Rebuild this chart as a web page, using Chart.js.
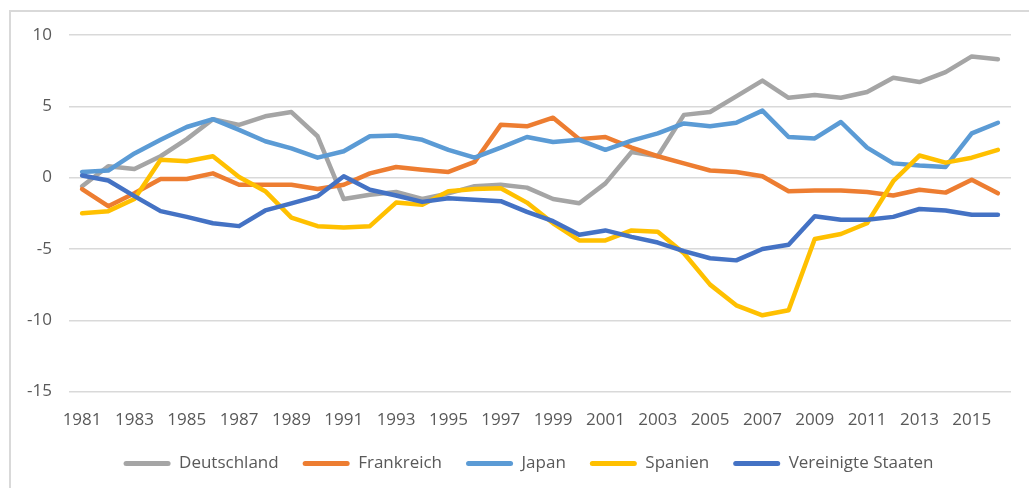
<!DOCTYPE html>
<html>
<head>
<meta charset="utf-8">
<script src="https://cdn.jsdelivr.net/npm/chart.js@4/dist/chart.umd.min.js"></script>
<style>
    html, body { margin: 0; padding: 0; background: #fff; overflow: hidden; }
    #wrap { position: relative; width: 1029px; height: 488px; }
    #frame {
        position: absolute; left: 9px; top: 10px; width: 1040px; height: 500px;
        border-left: 2px solid #d9d9d9; border-top: 2px solid #d9d9d9;
    }
    #chart { position: absolute; left: 0; top: 0; }
</style>
</head>
<body>
<div id="wrap">
    <div id="frame"></div>
    <canvas id="chart" width="1029" height="488"></canvas>
</div>
<script>
/* globals Chart:false */
const YEARS = ["1981", "1982", "1983", "1984", "1985", "1986", "1987", "1988", "1989", "1990",
    "1991", "1992", "1993", "1994", "1995", "1996", "1997", "1998", "1999", "2000",
    "2001", "2002", "2003", "2004", "2005", "2006", "2007", "2008", "2009", "2010",
    "2011", "2012", "2013", "2014", "2015", "2016"];

const DEUTSCHLAND = [-0.6, 0.8, 0.6, 1.5, 2.7, 4.1, 3.7, 4.3, 4.6, 2.9, -1.5, -1.2,
    -1.0, -1.5, -1.1, -0.6, -0.5, -0.7, -1.5, -1.8, -0.4, 1.8, 1.5, 4.4,
    4.6, 5.7, 6.8, 5.6, 5.8, 5.6, 6.0, 7.0, 6.7, 7.4, 8.5, 8.3];
const FRANKREICH = [-0.8, -2.0, -1.1, -0.1, -0.1, 0.3, -0.5, -0.5, -0.5, -0.8, -0.5, 0.3,
    0.75, 0.56, 0.4, 1.1, 3.7, 3.6, 4.2, 2.7, 2.85, 2.1, 1.5, 1.0,
    0.5, 0.4, 0.1, -0.95, -0.9, -0.9, -1.0, -1.25, -0.85, -1.05, -0.15, -1.1];
const JAPAN = [0.4, 0.5, 1.7, 2.65, 3.55, 4.1, 3.35, 2.55, 2.05, 1.4, 1.85, 2.9,
    2.95, 2.65, 1.95, 1.4, 2.1, 2.85, 2.5, 2.65, 1.95, 2.6, 3.1, 3.8,
    3.6, 3.85, 4.7, 2.85, 2.75, 3.9, 2.1, 1.0, 0.85, 0.75, 3.1, 3.85];
const SPANIEN = [-2.5, -2.35, -1.5, 1.25, 1.15, 1.5, 0.05, -0.95, -2.8, -3.4, -3.5, -3.4,
    -1.75, -1.9, -0.95, -0.8, -0.75, -1.75, -3.2, -4.4, -4.4, -3.7, -3.8, -5.3,
    -7.5, -8.95, -9.65, -9.3, -4.3, -3.95, -3.2, -0.25, 1.55, 1.05, 1.4, 1.95];
const VEREINIGTE_STAATEN = [0.15, -0.2, -1.3, -2.35, -2.75, -3.2, -3.4, -2.3, -1.8, -1.3, 0.1, -0.85,
    -1.25, -1.7, -1.45, -1.55, -1.65, -2.4, -3.05, -4.0, -3.7, -4.15, -4.55, -5.15,
    -5.65, -5.8, -5.0, -4.7, -2.7, -2.95, -2.95, -2.75, -2.2, -2.3, -2.6, -2.6];

const SERIES_NAMES = ["Deutschland", "Frankreich", "Japan", "Spanien", "Vereinigte Staaten"];
const SERIES_VALUES = [DEUTSCHLAND, FRANKREICH, JAPAN, SPANIEN, VEREINIGTE_STAATEN];
const SERIES_COLORS = ["#a5a5a5", "#ed7d31", "#5b9bd5", "#ffc000", "#4472c4"];

const Y_MIN = -15, Y_MAX = 10, Y_STEP = 5;

const FONT = { family: "'Open Sans', sans-serif", size: 17 };
const TEXT_COLOR = "#595959";

// legend is centred on the whole frame, not on the plot
const LEGEND_SHIFT = 23;

(function () {
    var $canvas = document.getElementById("chart");

    var datasets = SERIES_NAMES.map((name, idx) => ({
        label: name,
        data: SERIES_VALUES[idx],
        borderColor: SERIES_COLORS[idx],
        backgroundColor: SERIES_COLORS[idx],
        borderWidth: 4.5,
        pointRadius: 0,
        tension: 0,
        borderJoinStyle: "round",
        borderCapStyle: "round",
        // later series are painted over earlier ones, as in the source
        order: SERIES_NAMES.length - idx
    }));

    var shiftLegend = {
        id: "shiftLegend",
        afterLayout: chart => {
            if (chart.legend) {
                chart.legend.left += LEGEND_SHIFT;
                chart.legend.right += LEGEND_SHIFT;
            }
        }
    };

    new Chart($canvas, {
        type: "line",
        data: {
            labels: YEARS,
            datasets: datasets
        },
        plugins: [shiftLegend],
        options: {
            responsive: false,
            animation: false,
            layout: {
                padding: { top: 35, left: 0, right: 18, bottom: 6 }
            },
            plugins: {
                tooltip: { enabled: false },
                legend: {
                    position: "bottom",
                    labels: {
                        font: FONT,
                        color: TEXT_COLOR,
                        boxWidth: 47,
                        boxHeight: 5,
                        padding: 24,
                        useBorderRadius: true,
                        borderRadius: 2.5,
                        sort: (a, b) => a.datasetIndex - b.datasetIndex,
                        generateLabels: chart => Chart.defaults.plugins.legend.labels
                            .generateLabels(chart)
                            .map(item => Object.assign(item, { lineWidth: 0 }))
                    }
                }
            },
            scales: {
                x: {
                    offset: true,
                    afterFit: scale => { scale.height -= 17; },
                    grid: { display: false, drawTicks: false },
                    border: { display: false },
                    ticks: {
                        font: FONT,
                        color: TEXT_COLOR,
                        padding: 18,
                        autoSkip: false,
                        maxRotation: 0,
                        callback: (value, idx) => (idx % 2 === 0 ? YEARS[idx] : "")
                    }
                },
                y: {
                    min: Y_MIN,
                    max: Y_MAX,
                    afterFit: scale => { scale.width = 69; },
                    grid: { color: "#d9d9d9", lineWidth: 1.5, drawTicks: false },
                    border: { display: false },
                    ticks: {
                        stepSize: Y_STEP,
                        font: FONT,
                        color: TEXT_COLOR,
                        padding: 17
                    }
                }
            }
        }
    });
})();
</script>
</body>
</html>
